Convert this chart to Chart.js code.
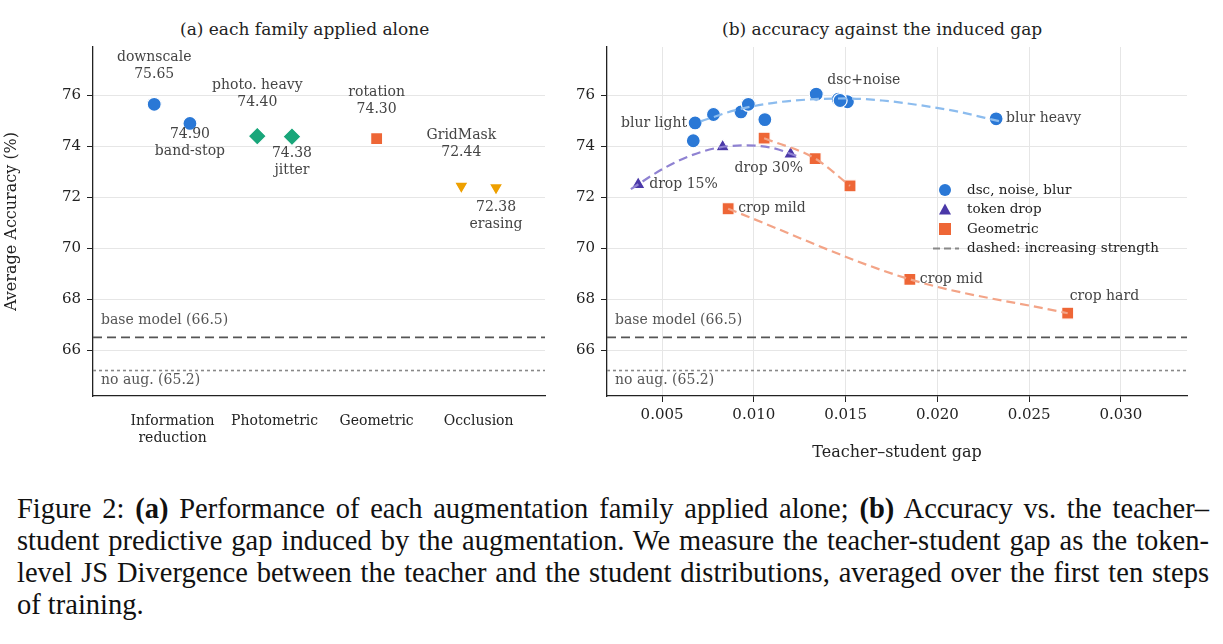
<!DOCTYPE html>
<html>
<head>
<meta charset="utf-8">
<script src="https://cdn.jsdelivr.net/npm/chart.js@4.4.1/dist/chart.umd.min.js"></script>
<style>
  body { margin: 0; background: #fff; width: 1223px; height: 644px; overflow: hidden; position: relative; }
  #left { position: absolute; left: 0; top: 0; }
  #right { position: absolute; left: 550px; top: 0; }
  .ttl { position: absolute; top: 19px; font: 17px "DejaVu Serif", serif; color: #222; }
  #caption { position: absolute; left: 17px; top: 493px; width: 1192px; font: 28.5px/32px "Liberation Serif", "Times New Roman", serif; color: #111; text-align: justify; }
</style>
</head>
<body>
<div class="ttl" style="left:180px">(a) each family applied alone</div>
<div class="ttl" style="left:722px">(b) accuracy against the induced gap</div>
<canvas id="left" width="600" height="470" style="width:600px;height:470px"></canvas>
<canvas id="right" width="673" height="470" style="width:673px;height:470px"></canvas>
<div id="caption">Figure 2: <b>(a)</b> Performance of each augmentation family applied alone; <b>(b)</b> Accuracy vs. the teacher–student predictive gap induced by the augmentation. We measure the teacher-student gap as the token-level JS Divergence between the teacher and the student distributions, averaged over the first ten steps of training.</div>
<script>
// ===============================
// DATA
// ===============================
const families = [["Information", "reduction"], "Photometric", "Geometric", "Occlusion"];
const yTicks = [66, 68, 70, 72, 74, 76];
const baseModel = 66.5;
const noAug = 65.2;

// panel (a): x = family index + jitter offset
const infoX = [-0.18, 0.17], infoY = [75.65, 74.90];
const photoX = [0.83, 1.17], photoY = [74.40, 74.38];
const geoX = [2], geoY = [74.30];
const occX = [2.83, 3.17], occY = [72.44, 72.38];

// panel (b)
const gapTicks = [0.005, 0.010, 0.015, 0.020, 0.025, 0.030];
const blurX = [0.0068, 0.0067, 0.0078, 0.0093, 0.0097, 0.0106, 0.0134, 0.0146, 0.0151, 0.0147, 0.0232];
const blurY = [74.92, 74.22, 75.25, 75.35, 75.65, 75.05, 76.05, 75.85, 75.75, 75.80, 75.08];
const blurFitX = [0.0071, 0.009, 0.011, 0.013, 0.015, 0.017, 0.019, 0.021, 0.0234];
const blurFitY = [74.98, 75.42, 75.70, 75.84, 75.88, 75.80, 75.62, 75.38, 74.98];
const dropX = [0.0037, 0.0083, 0.0120];
const dropY = [72.50, 73.98, 73.70];
const dropFitX = [0.0033, 0.005, 0.0065, 0.008, 0.0095, 0.011, 0.0125];
const dropFitY = [72.32, 73.10, 73.62, 73.94, 74.04, 73.94, 73.58];
const geomX = [0.01056, 0.01334, 0.01524];
const geomY = [74.32, 73.52, 72.45];
const cropX = [0.0086, 0.0185, 0.0271];
const cropY = [71.55, 68.78, 67.45];

const pts = (xs, ys) => xs.map((x, i) => ({ x: x, y: ys[i] }));

// labels: text lines, anchored at a data point, pixel offset
const leftLabels = [
  { x: infoX[0], y: infoY[0], lines: ["downscale", "75.65"], dx: 0, dy: -38 },
  { x: infoX[1], y: infoY[1], lines: ["74.90", "band-stop"], dx: 0, dy: 19 },
  { x: photoX[0], y: photoY[0], lines: ["photo. heavy", "74.40"], dx: 0, dy: -42 },
  { x: photoX[1], y: photoY[1], lines: ["74.38", "jitter"], dx: 0, dy: 25 },
  { x: geoX[0], y: geoY[0], lines: ["rotation", "74.30"], dx: 0, dy: -38 },
  { x: occX[0], y: occY[0], lines: ["GridMask", "72.44"], dx: 0, dy: -42 },
  { x: occX[1], y: occY[1], lines: ["72.38", "erasing"], dx: 0, dy: 28 }
];
const rightLabels = [
  { x: blurX[0], y: blurY[0], lines: ["blur light"], dx: -8, dy: 0, align: "right" },
  { x: blurX[10], y: blurY[10], lines: ["blur heavy"], dx: 10, dy: 0, align: "left" },
  { x: blurX[6], y: blurY[6], lines: ["dsc+noise"], dx: 11, dy: -14, align: "left" },
  { x: dropX[0], y: dropY[0], lines: ["drop 15%"], dx: 11, dy: 0, align: "left" },
  { x: dropX[2], y: dropY[2], lines: ["drop 30%"], dx: -56, dy: 14, align: "left" },
  { x: cropX[0], y: cropY[0], lines: ["crop mild"], dx: 10, dy: 0, align: "left" },
  { x: cropX[1], y: cropY[1], lines: ["crop mid"], dx: 10, dy: 0, align: "left" },
  { x: cropX[2], y: cropY[2], lines: ["crop hard"], dx: 2, dy: -17, align: "left" }
];

const BLUE = "#2a78d6", GREEN = "#19a67a", ORANGE = "#ee6636", YELLOW = "#eea000", PURPLE = "#4a38a8";
const FONT = "DejaVu Serif";

// ===============================
// PLUGINS
// ===============================
function labelPlugin(list) {
  return {
    id: "labels",
    afterDatasetsDraw(chart) {
      const c = chart.ctx, xs = chart.scales.x, ys = chart.scales.y;
      c.save();
      c.font = "14px '" + FONT + "', serif";
      c.fillStyle = "#444";
      c.textBaseline = "middle";
      list.forEach(l => {
        c.textAlign = l.align || "center";
        const px = xs.getPixelForValue(l.x) + l.dx;
        const py = ys.getPixelForValue(l.y) + l.dy;
        l.lines.forEach((t, i) => c.fillText(t, px, py + (i - (l.lines.length - 1) / 2) * 17));
      });
      c.restore();
    }
  };
}

function refLines(chart) {
  const c = chart.ctx, a = chart.chartArea, ys = chart.scales.y;
  c.save();
  c.font = "14px '" + FONT + "', serif";
  c.fillStyle = "#555";
  c.textAlign = "left";
  c.lineWidth = 1.6;
  c.strokeStyle = "#555";
  c.setLineDash([9, 5]);
  let y = ys.getPixelForValue(baseModel);
  c.beginPath(); c.moveTo(a.left, y); c.lineTo(a.right, y); c.stroke();
  c.fillText("base model (66.5)", a.left + 8, y - 13);
  c.strokeStyle = "#888";
  c.setLineDash([3, 3]);
  y = ys.getPixelForValue(noAug);
  c.beginPath(); c.moveTo(a.left, y); c.lineTo(a.right, y); c.stroke();
  c.fillText("no aug. (65.2)", a.left + 8, y + 13);
  c.restore();
}

const refPlugin = { id: "ref", beforeDatasetsDraw: refLines };

const legendPlugin = {
  id: "customLegend",
  afterDraw(chart) {
    const c = chart.ctx;
    const x = 395, y0 = 190, gap = 19.5;
    c.save();
    c.font = "13.5px '" + FONT + "', serif";
    c.fillStyle = "#222";
    c.textBaseline = "middle";
    c.textAlign = "left";
    const items = ["dsc, noise, blur", "token drop", "Geometric", "dashed: increasing strength"];
    items.forEach((t, i) => c.fillText(t, x + 22, y0 + i * gap));
    c.fillStyle = BLUE;
    c.beginPath(); c.arc(x, y0, 6, 0, Math.PI * 2); c.fill();
    c.fillStyle = PURPLE;
    c.beginPath(); c.moveTo(x, y0 + gap - 6); c.lineTo(x + 6, y0 + gap + 5); c.lineTo(x - 6, y0 + gap + 5); c.closePath(); c.fill();
    c.fillStyle = ORANGE;
    c.fillRect(x - 6, y0 + 2 * gap - 6, 12, 12);
    c.strokeStyle = "#888"; c.lineWidth = 2; c.setLineDash([7, 4]);
    c.beginPath(); c.moveTo(x - 12, y0 + 3 * gap); c.lineTo(x + 14, y0 + 3 * gap); c.stroke();
    c.restore();
  }
};

// ===============================
// COMMON
// ===============================
const tickFont = { family: "'DejaVu Serif', serif", size: 15 };
function yScale(width, showTitle) {
  return {
    type: "linear", min: 64.2, max: 77.9,
    afterFit: s => { s.width = width; },
    afterBuildTicks: s => { s.ticks = yTicks.map(v => ({ value: v })); },
    ticks: { font: tickFont, color: "#222", padding: 6 },
    grid: { color: "#e6e6e6", tickLength: 6, tickColor: "#222" },
    border: { color: "#222", width: 1.3 },
    title: { display: showTitle, text: "Average Accuracy (%)", font: { family: "'DejaVu Serif', serif", size: 16 }, color: "#222", padding: 2 }
  };
}
function scatter(data, color, style, r, extra) {
  return Object.assign({
    type: "scatter", data: data, pointStyle: style, pointRadius: r, pointHoverRadius: r,
    backgroundColor: color, borderColor: "#fff", borderWidth: 1.2
  }, extra || {});
}
function fit(data, color, width) {
  return {
    type: "line", data: data, borderColor: color, borderWidth: width || 2.2, borderDash: [9, 5],
    pointRadius: 0, fill: false, tension: 0.4, cubicInterpolationMode: "monotone"
  };
}
const baseOpts = {
  responsive: false, animation: false,
  plugins: { legend: { display: false }, tooltip: { enabled: false } }
};

function draw() {
  // ===============================
  // PANEL (a)
  // ===============================
  new Chart(document.getElementById("left"), {
    data: {
      datasets: [
        scatter(pts(infoX, infoY), BLUE, "circle", 7),
        scatter(pts(photoX, photoY), GREEN, "rectRot", 9),
        scatter(pts(geoX, geoY), ORANGE, "rect", 8.5),
        scatter(pts(occX, occY), YELLOW, "triangle", 8, { rotation: 180 })
      ]
    },
    options: Object.assign({}, baseOpts, {
      layout: { padding: { top: 47, right: 55, left: 0, bottom: 0 } },
      scales: {
        x: {
          type: "linear", min: -0.78, max: 3.65,
          afterFit: s => { s.height = 74; },
          afterBuildTicks: s => { s.ticks = families.map((f, i) => ({ value: i })); },
          ticks: { font: { family: "'DejaVu Serif', serif", size: 14 }, color: "#222", padding: 10, maxRotation: 0,
            callback: (v) => families[v] },
          grid: { display: false, drawOnChartArea: false, tickLength: 7, tickColor: "#222" },
          border: { color: "#222", width: 1.3 }
        },
        y: yScale(93, true)
      }
    }),
    plugins: [refPlugin, labelPlugin(leftLabels)]
  });

  // ===============================
  // PANEL (b)
  // ===============================
  new Chart(document.getElementById("right"), {
    data: {
      datasets: [
        fit(pts(blurFitX, blurFitY), "#8cbcee"),
        fit(pts(dropFitX, dropFitY), "#8f82d2"),
        Object.assign(fit(pts(geomX, geomY), "#f3a487"), { tension: 0 }),
        Object.assign(fit(pts(cropX, cropY), "#f3a487"), { tension: 0 }),
        scatter(pts(blurX, blurY), BLUE, "circle", 7),
        scatter(pts(dropX, dropY), PURPLE, "triangle", 8),
        scatter(pts(geomX, geomY), ORANGE, "rect", 8.5),
        scatter(pts(cropX, cropY), ORANGE, "rect", 8.5)
      ]
    },
    options: Object.assign({}, baseOpts, {
      layout: { padding: { top: 47, right: 36, left: 0, bottom: 0 } },
      scales: {
        x: {
          type: "linear", min: 0.0020, max: 0.0336,
          afterFit: s => { s.height = 74; },
          afterBuildTicks: s => { s.ticks = gapTicks.map(v => ({ value: v })); },
          ticks: { font: tickFont, color: "#222", padding: 4, callback: v => v.toFixed(3) },
          grid: { color: "#e6e6e6", tickLength: 6, tickColor: "#222" },
          border: { color: "#222", width: 1.3 },
          title: { display: true, text: "Teacher–student gap", font: { family: "'DejaVu Serif', serif", size: 16 }, color: "#222", padding: { top: 0, bottom: 8 } }
        },
        y: yScale(57, false)
      }
    }),
    plugins: [refPlugin, labelPlugin(rightLabels), legendPlugin]
  });
}

Promise.all([
  document.fonts.load("15px 'DejaVu Serif'"),
  document.fonts.load("28px 'Liberation Serif'")
]).then(draw, draw);
</script>
</body>
</html>
